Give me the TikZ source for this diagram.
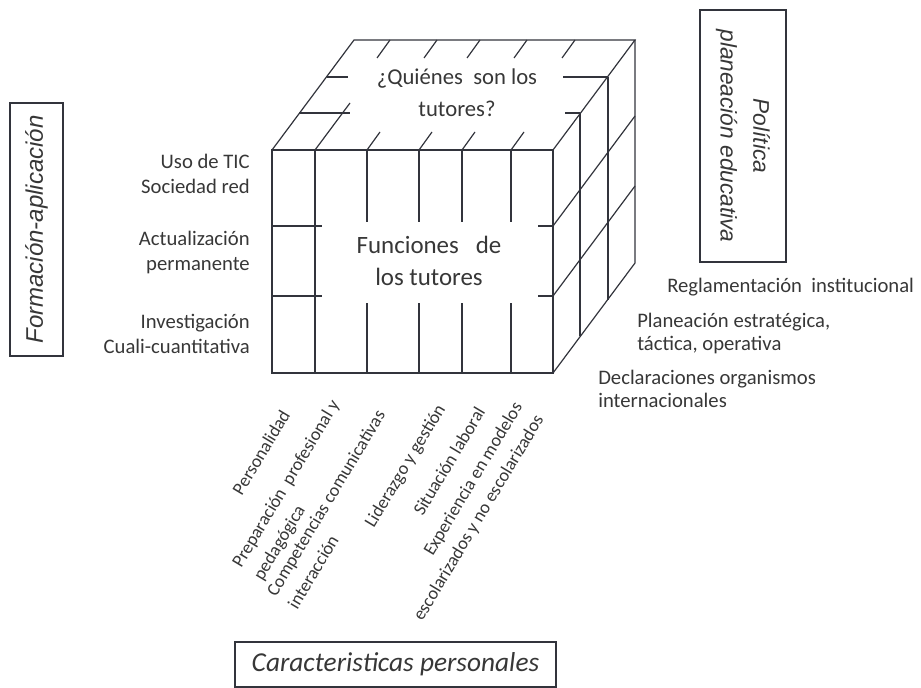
\documentclass[tikz,border=0pt]{standalone}
\usepackage{fontspec}
\setmainfont{Carlito}
\newfontfamily\arialfont{Liberation Sans}
\usepackage{xcolor}
\usepackage{tikz}
\usetikzlibrary{positioning,calc}

\definecolor{edgecol}{RGB}{50,52,60}
\definecolor{txtcol}{RGB}{55,55,55}

\tikzset{
  cubeline/.style={edgecol,line width=0.9pt},
  frontedge/.style={edgecol,line width=1.4pt},
  sidelabel/.style={txtcol,font=\fontsize{15.5}{18.75}\selectfont,align=right,anchor=east,inner sep=0pt},
  rightlabel/.style={txtcol,font=\fontsize{15.5}{17.25}\selectfont,align=left,anchor=west,inner sep=0pt},
  traitlabel/.style={txtcol,font=\fontsize{13.6}{18.5}\selectfont,rotate=59,anchor=north east,inner sep=0pt},
  axisbox/.style={draw=edgecol,line width=0.9pt,text=txtcol,inner sep=0pt,align=center},
}

\begin{document}
\begin{tikzpicture}[x=0.75pt,y=-0.75pt]
\useasboundingbox (0,0) rectangle (921,688);

% front face
\draw[frontedge] (272,150) rectangle (553,373);
\draw[cubeline] (315,150) -- (315,373);
\foreach \x in {367,419,462,511}{
  \draw[cubeline] (\x,150) -- (\x,222);
  \draw[cubeline] (\x,303) -- (\x,373);
}
\foreach \y in {226,296}{
  \draw[cubeline] (272,\y) -- (322,\y);
  \draw[cubeline] (538,\y) -- (553,\y);
}

% top face
\draw[cubeline] (272,150) -- (354,40) -- (635,40) -- (553,150);
\draw[cubeline] (315,150) -- (350,103);
\foreach \x in {367,419,462,511}
  \draw[cubeline] (\x,150) -- ++(13,-18);
\foreach \x in {390,437,480,527,575}
  \draw[cubeline] (\x,40) -- ++(-13,18);
\draw[cubeline] (299,113) -- (350,113);
\draw[cubeline] (327,77) -- (348,77);
\draw[cubeline] (565,113) -- (580,113);
\draw[cubeline] (563,77) -- (608,77);

% right face
\draw[cubeline] (635,40) -- (635,263) -- (553,373);
\draw[cubeline] (553,226) -- (635,116);
\draw[cubeline] (553,296) -- (635,186);
\draw[cubeline] (580,113) -- (580,336);
\draw[cubeline] (608,77) -- (608,300);

% cube texts
\node[txtcol,align=center,font=\fontsize{17}{24}\selectfont] (quienes) at (457,93) {¿Quiénes\ \ son los\\tutores?};
\node[txtcol,align=center,font=\fontsize{18.7}{24}\selectfont] (funciones) at (429,261) {Funciones\ \ \ de\\los tutores};

% left axis
\node[axisbox,rotate=90,minimum width=189.75pt,minimum height=39.75pt,font=\arialfont\itshape\fontsize{18}{22}\selectfont] (formacion) at (36.5,229.5) {Formación-aplicación};
\node[sidelabel] (tic) at (250,174) {Uso de TIC\\Sociedad red};
\node[sidelabel] (actual) at (250,252) {Actualización\\permanente};
\node[sidelabel] (invest) at (250,334) {Investigación\\Cuali-cuantitativa};

% right axis
\node[axisbox,rotate=-90,minimum width=189pt,minimum height=64.5pt,font=\arialfont\itshape\fontsize{17}{24.5}\selectfont] (politica) at (743,136) {Política\\planeación educativa};
\node[rightlabel] (reglam) at (667,287) {Reglamentación\ \ institucional};
\node[rightlabel] (planea) at (637,333.5) {Planeación estratégica,\\táctica, operativa};
\node[rightlabel] (declar) at (598,389) {Declaraciones organismos\\internacionales};

% bottom axis
\node[traitlabel] (person) at (280,408) {Personalidad};
\node[traitlabel,align=left] (prepar) at (329,398) {Preparación\ \ profesional y\\pedagógica};
\node[traitlabel,align=left] (compet) at (375,408) {Competencias comunicativas\\interacción};
\node[traitlabel] (lider) at (435,402) {Liderazgo y gestión};
\node[traitlabel] (situac) at (475,405) {Situación laboral};
\node[traitlabel,align=right] (experi) at (512,400) {Experiencia en modelos\\escolarizados y no escolarizados};
\node[axisbox,minimum width=240.75pt,minimum height=33.75pt,font=\itshape\fontsize{20.5}{24}\selectfont] (caract) at (395.5,664.5) {Caracteristicas personales};
\end{tikzpicture}
\end{document}
